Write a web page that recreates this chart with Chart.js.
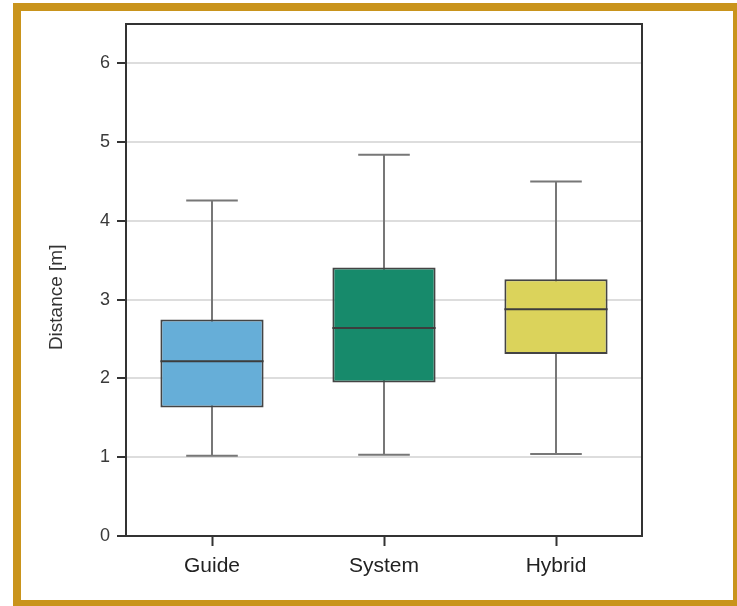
<!DOCTYPE html>
<html>
<head>
<meta charset="utf-8">
<script src="https://cdn.jsdelivr.net/npm/chart.js@4/dist/chart.umd.min.js"></script>
<style>
  html, body { margin: 0; padding: 0; background: #fff; }
  #wrap { position: relative; width: 737px; height: 606px; overflow: hidden; }
  #frame { position: absolute; left: 13px; top: 3px; width: 728px; height: 605px;
           border: 8px solid #c9941c; box-sizing: border-box; }
  canvas { position: absolute; left: 0; top: 0; }
</style>
</head>
<body>
<div id="wrap">
  <div id="frame"></div>
  <canvas id="c" width="737" height="606"></canvas>
</div>
<script>
// Groups and their box-plot summaries (distance in metres)
const categories = ['Guide', 'System', 'Hybrid'];
const whiskerLow = [1.02, 1.03, 1.04];
const q1 = [1.63, 1.95, 2.31];
const median = [2.22, 2.64, 2.88];
const q3 = [2.75, 3.41, 3.26];
const whiskerHigh = [4.26, 4.84, 4.50];
const boxColors = ['#66aed8', '#178a6b', '#dbd35b'];
const yTicks = [0, 1, 2, 3, 4, 5, 6];
const yTitle = 'Distance [m]';

const boxRanges = categories.map((_, i) => [q1[i], q3[i]]);
const FONT = 'Liberation Sans, Arial, sans-serif';

// Whiskers behind the boxes, medians on top, a closed frame and the axis title
const boxPlotExtras = {
  id: 'boxPlotExtras',
  beforeDatasetsDraw(chart) {
    const ctx = chart.ctx, y = chart.scales.y;
    const meta = chart.getDatasetMeta(0);
    ctx.save();
    ctx.strokeStyle = '#777';
    ctx.lineWidth = 2;
    meta.data.forEach((bar, i) => {
      const cap = bar.width / 2;
      const yl = y.getPixelForValue(whiskerLow[i]);
      const yh = y.getPixelForValue(whiskerHigh[i]);
      ctx.beginPath();
      ctx.moveTo(bar.x, yl); ctx.lineTo(bar.x, yh);
      ctx.moveTo(bar.x - cap / 2, yl); ctx.lineTo(bar.x + cap / 2, yl);
      ctx.moveTo(bar.x - cap / 2, yh); ctx.lineTo(bar.x + cap / 2, yh);
      ctx.stroke();
    });
    ctx.restore();
  },
  afterDatasetsDraw(chart) {
    const ctx = chart.ctx, y = chart.scales.y;
    const meta = chart.getDatasetMeta(0);
    ctx.save();
    ctx.strokeStyle = '#3d3d3d';
    ctx.lineWidth = 2;
    meta.data.forEach((bar, i) => {
      const ym = y.getPixelForValue(median[i]);
      ctx.beginPath();
      ctx.moveTo(bar.x - bar.width / 2, ym);
      ctx.lineTo(bar.x + bar.width / 2, ym);
      ctx.stroke();
    });
    ctx.restore();
  },
  afterDraw(chart) {
    const a = chart.chartArea, ctx = chart.ctx, y = chart.scales.y;
    ctx.save();
    ctx.strokeStyle = '#333';
    ctx.lineWidth = 2;
    ctx.strokeRect(a.left, a.top, a.right - a.left, a.bottom - a.top);
    // y axis title, centred a little below the middle of the value range
    ctx.translate(57, y.getPixelForValue(3.03));
    ctx.rotate(-Math.PI / 2);
    ctx.fillStyle = '#333';
    ctx.font = '19px ' + FONT;
    ctx.textAlign = 'center';
    ctx.textBaseline = 'middle';
    ctx.fillText(yTitle, 0, 0);
    ctx.restore();
  }
};

new Chart(document.getElementById('c'), {
  type: 'bar',
  data: {
    labels: categories,
    datasets: [{
      data: boxRanges,
      backgroundColor: boxColors,
      borderColor: '#444',
      borderWidth: 2,
      borderSkipped: false,
      barPercentage: 0.6,
      categoryPercentage: 1.0
    }]
  },
  options: {
    responsive: false,
    animation: false,
    layout: { padding: { left: 0, top: 24, right: 95, bottom: 0 } },
    plugins: { legend: { display: false }, tooltip: { enabled: false } },
    scales: {
      x: {
        offset: true,
        grid: { offset: false, drawOnChartArea: false, drawTicks: true,
                tickLength: 10, tickColor: '#333', tickWidth: 2 },
        border: { display: false },
        ticks: { color: '#222', padding: 8, font: { family: FONT, size: 21 } },
        afterFit(scale) { scale.height = 70; }
      },
      y: {
        min: 0,
        max: 6.5,
        afterBuildTicks(scale) { scale.ticks = yTicks.map(v => ({ value: v })); },
        grid: { color: '#dddddd', lineWidth: 2, drawTicks: true,
                tickLength: 9, tickColor: '#333', tickWidth: 2 },
        border: { display: false },
        ticks: { color: '#3a3a3a', padding: 7, font: { family: FONT, size: 18 } },
        afterFit(scale) { scale.width = 126; }
      }
    }
  },
  plugins: [boxPlotExtras]
});
</script>
</body>
</html>
